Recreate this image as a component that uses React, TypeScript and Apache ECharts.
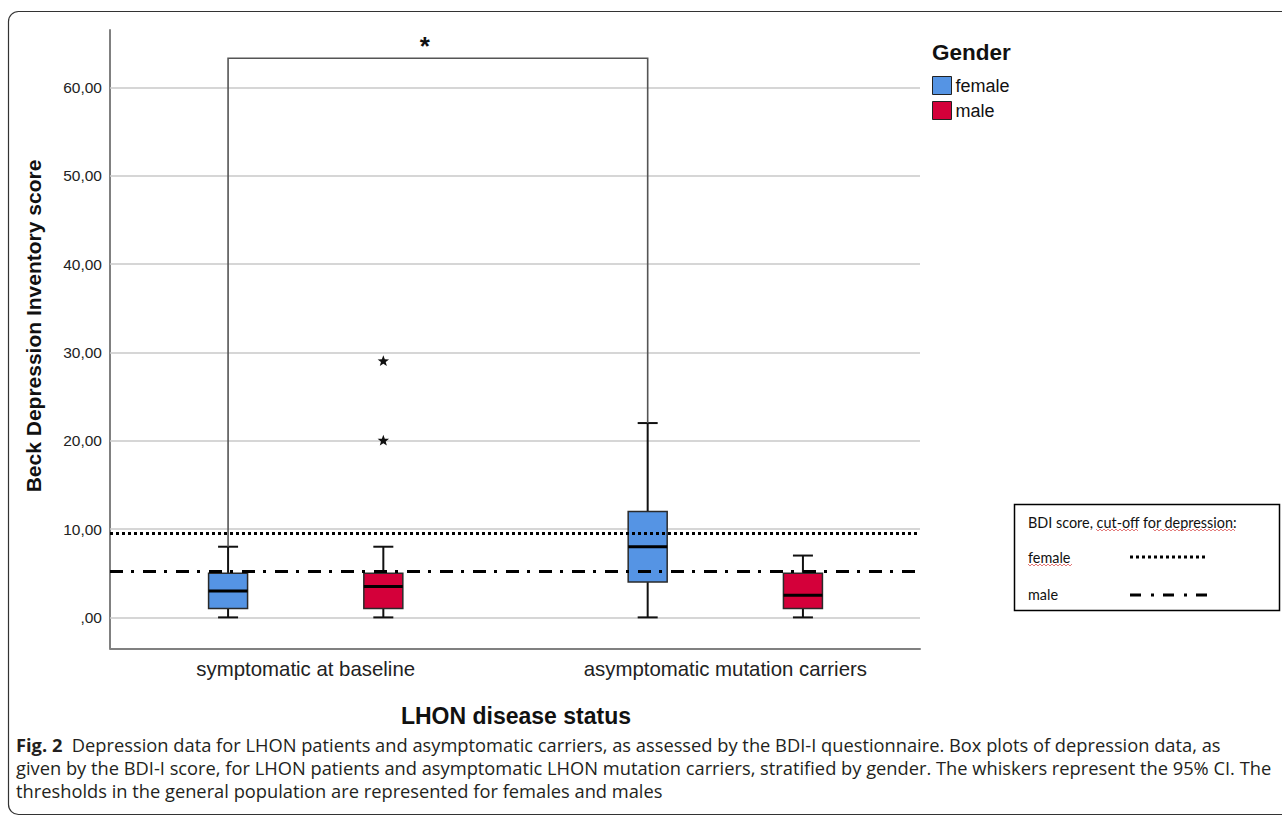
import React, { useEffect, useRef } from "react";
import * as echarts from "echarts";

// ---------- data ----------
const categories = ["symptomatic at baseline", "asymptomatic mutation carriers"];
const yTicks = [0, 10, 20, 30, 40, 50, 60];
// [min, Q1, median, Q3, max] for each category
const femaleBox = [
  [0, 1, 3, 5, 8],
  [0, 4, 8, 12, 22],
];
const maleBox = [
  [0, 1, 3.5, 5, 8],
  [0, 1, 2.5, 5, 7],
];
// outliers: [categoryIndex, value]
const maleOutliers = [
  [0, 20],
  [0, 29],
];
const cutoffFemale = 9.5;
const cutoffMale = 5.2;
// significance bracket: [fromCategory, fromValue, toCategory, toValue, bracketTop]
const sigBracket = [[0, 8, 1, 22, 63.3]];
const sigLabel = "*";

const captionLines = [
  "  Depression data for LHON patients and asymptomatic carriers, as assessed by the BDI-I questionnaire. Box plots of depression data, as",
  "given by the BDI-I score, for LHON patients and asymptomatic LHON mutation carriers, stratified by gender. The whiskers represent the 95% CI. The",
  "thresholds in the general population are represented for females and males",
];

// ---------- style constants ----------
const FONT = "'Liberation Sans', Arial, sans-serif";
const CAP_FONT = "'Open Sans', 'Noto Sans', sans-serif";
const CAP_SIZE = 18.3;
const BLUE = "#5594e4";
const RED = "#d4003a";
const OFF = 0.185; // box offset from category centre (category units)
const BOX_HALF = 19.5;
const CAP_HALF = 10;
const X_MIN = -0.4664;
const X_MAX = 1.464;

function boxRenderer(sign: number) {
  return (params: any, api: any) => {
    const x = api.value(0) + sign * OFF;
    const pMin = api.coord([x, api.value(1)]);
    const pQ1 = api.coord([x, api.value(2)]);
    const pMed = api.coord([x, api.value(3)]);
    const pQ3 = api.coord([x, api.value(4)]);
    const pMax = api.coord([x, api.value(5)]);
    const cx = pMin[0];
    const color = api.visual("color");
    const wStyle = { stroke: "#111", lineWidth: 2 };
    return {
      type: "group",
      children: [
        { type: "line", shape: { x1: cx, y1: pMax[1], x2: cx, y2: pQ3[1] }, style: wStyle },
        { type: "line", shape: { x1: cx, y1: pQ1[1], x2: cx, y2: pMin[1] }, style: wStyle },
        { type: "line", shape: { x1: cx - CAP_HALF, y1: pMax[1], x2: cx + CAP_HALF, y2: pMax[1] }, style: wStyle },
        { type: "line", shape: { x1: cx - CAP_HALF, y1: pMin[1], x2: cx + CAP_HALF, y2: pMin[1] }, style: wStyle },
        {
          type: "rect",
          shape: { x: cx - BOX_HALF, y: pQ3[1], width: BOX_HALF * 2, height: pQ1[1] - pQ3[1] },
          style: { fill: color, stroke: "#2a2a2a", lineWidth: 1.5 },
        },
        { type: "line", shape: { x1: cx - BOX_HALF, y1: pMed[1], x2: cx + BOX_HALF, y2: pMed[1] }, style: { stroke: "#000", lineWidth: 3 } },
      ],
    };
  };
}

function starRenderer(sign: number) {
  return (params: any, api: any) => {
    const p = api.coord([api.value(0) + sign * OFF, api.value(1)]);
    const pts: number[][] = [];
    for (let k = 0; k < 10; k++) {
      const a = -Math.PI / 2 + (k * Math.PI) / 5;
      const r = k % 2 === 0 ? 6 : 2.5;
      pts.push([p[0] + r * Math.cos(a), p[1] + r * Math.sin(a)]);
    }
    return { type: "polygon", shape: { points: pts }, style: { fill: "#111" } };
  };
}

function bracketRenderer(params: any, api: any) {
  const x0 = api.value(0) - OFF;
  const x1 = api.value(2) - OFF;
  const a = api.coord([x0, api.value(1)]);
  const b = api.coord([x0, api.value(4)]);
  const c = api.coord([x1, api.value(4)]);
  const d = api.coord([x1, api.value(3)]);
  return {
    type: "group",
    children: [
      {
        type: "polyline",
        shape: { points: [a, b, c, d] },
        style: { stroke: "#555", lineWidth: 1.6, fill: "none" },
      },
      {
        type: "text",
        x: (b[0] + c[0]) / 2 - 13,
        y: b[1] - 12,
        style: {
          text: sigLabel,
          fontSize: 26,
          fontWeight: "bold",
          fontFamily: FONT,
          fill: "#111",
          align: "center",
          verticalAlign: "middle",
        },
      },
    ],
  };
}

function wavy(x0: number, x1: number, y: number) {
  const pts: number[][] = [];
  let up = true;
  for (let x = x0; x <= x1; x += 2) {
    pts.push([x, y + (up ? -1 : 1)]);
    up = !up;
  }
  return {
    type: "polyline",
    shape: { points: pts },
    style: { stroke: "#e06a6a", lineWidth: 0.9, fill: "none" },
  };
}

export default function App() {
  const ref = useRef<HTMLDivElement>(null);
  useEffect(() => {
    if (!ref.current) return;
    const chart = echarts.init(ref.current, null, { renderer: "svg" });
    const option: any = {
      animation: false,
      backgroundColor: "#fff",
      textStyle: { fontFamily: FONT },
      grid: { left: 110, right: 1282 - 920, top: 30, bottom: 816 - 648.3 },
      legend: {
        orient: "vertical",
        left: 932,
        top: 76,
        itemWidth: 19,
        itemHeight: 18,
        itemGap: 6,
        padding: 0,
        icon: "rect",
        selectedMode: false,
        data: ["female", "male"],
        itemStyle: { borderColor: "#222", borderWidth: 1 },
        textStyle: { fontSize: 18, color: "#111", fontFamily: FONT, padding: [0, 0, 0, -1] },
      },
      xAxis: {
        type: "value",
        min: X_MIN,
        max: X_MAX,
        axisLine: { show: true, onZero: false, lineStyle: { color: "#808080", width: 2 } },
        axisTick: { show: false },
        splitLine: { show: false },
        axisLabel: {
          customValues: [0, 1],
          formatter: (v: number) => categories[Math.round(v)],
          fontSize: 20.4,
          color: "#222",
          margin: 11,
        },
      },
      yAxis: {
        type: "value",
        min: -3.5,
        max: 66.5,
        axisLine: { show: true, onZero: false, lineStyle: { color: "#808080", width: 2 } },
        axisTick: { show: false },
        splitLine: { show: false },
        axisLabel: {
          customValues: yTicks,
          formatter: (v: number) => (v === 0 ? ",00" : v.toFixed(2).replace(".", ",")),
          fontSize: 15.5,
          color: "#222",
          margin: 8,
        },
      },
      series: [
        {
          type: "line",
          name: "grid",
          data: [],
          silent: true,
          markLine: {
            silent: true,
            z: 1,
            symbol: ["none", "none"],
            label: { show: false },
            lineStyle: { color: "#c8c8c8", width: 1.5, type: "solid" },
            data: yTicks.map((v) => ({ yAxis: v })),
          },
        },
        {
          type: "custom",
          name: "female",
          z: 3,
          itemStyle: { color: BLUE },
          renderItem: boxRenderer(-1),
          encode: { x: 0, y: [1, 2, 3, 4, 5] },
          data: femaleBox.map((b, i) => [i, ...b]),
        },
        {
          type: "custom",
          name: "male",
          z: 3,
          itemStyle: { color: RED },
          renderItem: boxRenderer(1),
          encode: { x: 0, y: [1, 2, 3, 4, 5] },
          data: maleBox.map((b, i) => [i, ...b]),
        },
        {
          type: "custom",
          name: "male outliers",
          z: 4,
          renderItem: starRenderer(1),
          encode: { x: 0, y: 1 },
          data: maleOutliers,
        },
        {
          type: "custom",
          name: "significance",
          z: 4,
          renderItem: bracketRenderer,
          encode: { x: 0, y: 1 },
          data: sigBracket,
        },
        {
          type: "line",
          name: "cutoffs",
          data: [],
          silent: true,
          markLine: {
            silent: true,
            z: 10,
            symbol: ["none", "none"],
            label: { show: false },
            data: [
              { yAxis: cutoffFemale, lineStyle: { color: "#000", width: 3, type: [3, 3] } },
              { yAxis: cutoffMale, lineStyle: { color: "#000", width: 3, type: [13, 8, 3, 9] } },
            ],
          },
        },
      ],
      graphic: [
        {
          type: "rect",
          z: -10,
          shape: { x: 8.5, y: 11.5, width: 1290, height: 803, r: 10 },
          style: { fill: "none", stroke: "#333", lineWidth: 1.2 },
        },
        {
          type: "text",
          x: 33,
          y: 326,
          rotation: Math.PI / 2,
          style: {
            text: "Beck Depression Inventory score",
            fontSize: 21,
            fontWeight: "bold",
            fontFamily: FONT,
            fill: "#111",
            align: "center",
            verticalAlign: "middle",
          },
        },
        {
          type: "text",
          x: 516,
          y: 716,
          style: {
            text: "LHON disease status",
            fontSize: 23,
            fontWeight: "bold",
            fontFamily: FONT,
            fill: "#111",
            align: "center",
            verticalAlign: "middle",
          },
        },
        {
          type: "text",
          x: 932,
          y: 52,
          style: {
            text: "Gender",
            fontSize: 22.5,
            fontWeight: "bold",
            fontFamily: FONT,
            fill: "#111",
            align: "left",
            verticalAlign: "middle",
          },
        },
        {
          type: "rect",
          shape: { x: 1014.5, y: 504.5, width: 265, height: 106 },
          style: { fill: "#fff", stroke: "#000", lineWidth: 1.5 },
        },
        {
          type: "text",
          x: 1028,
          y: 522,
          style: { text: "BDI score, cut-off for depression:", fontSize: 14.4, fontFamily: "Lato, sans-serif", fill: "#111", verticalAlign: "middle" },
        },
        {
          type: "text",
          x: 1028,
          y: 557.5,
          style: { text: "female", fontSize: 14.4, fontFamily: "Lato, sans-serif", fill: "#111", verticalAlign: "middle" },
        },
        {
          type: "text",
          x: 1028,
          y: 594,
          style: { text: "male", fontSize: 14.4, fontFamily: "Lato, sans-serif", fill: "#111", verticalAlign: "middle" },
        },
        wavy(1096, 1139, 530),
        wavy(1153, 1235, 530),
        wavy(1028, 1073, 565),
        {
          type: "line",
          shape: { x1: 1130, y1: 557, x2: 1208, y2: 557 },
          style: { stroke: "#000", lineWidth: 3, lineDash: [3, 3] },
        },
        {
          type: "line",
          shape: { x1: 1130, y1: 595, x2: 1208, y2: 595 },
          style: { stroke: "#000", lineWidth: 3, lineDash: [11, 10, 3, 9] },
        },
        {
          type: "text",
          x: 16,
          y: 744,
          style: {
            text: "{b|Fig. 2}" + captionLines[0],
            fontSize: CAP_SIZE,
            fontFamily: CAP_FONT,
            fill: "#231f20",
            verticalAlign: "middle",
            rich: { b: { fontWeight: "bold", fontSize: CAP_SIZE, fontFamily: CAP_FONT, fill: "#231f20" } },
          },
        },
        {
          type: "text",
          x: 16,
          y: 767,
          style: { text: captionLines[1], fontSize: CAP_SIZE, fontFamily: CAP_FONT, fill: "#231f20", verticalAlign: "middle" },
        },
        {
          type: "text",
          x: 16,
          y: 790,
          style: { text: captionLines[2], fontSize: CAP_SIZE, fontFamily: CAP_FONT, fill: "#231f20", verticalAlign: "middle" },
        },
      ],
    };
    chart.setOption(option);
    return () => chart.dispose();
  }, []);
  return (
    <div
      ref={ref}
      style={{ position: "fixed", left: 0, top: 0, width: 1282, height: 816, background: "#fff" }}
    />
  );
}
